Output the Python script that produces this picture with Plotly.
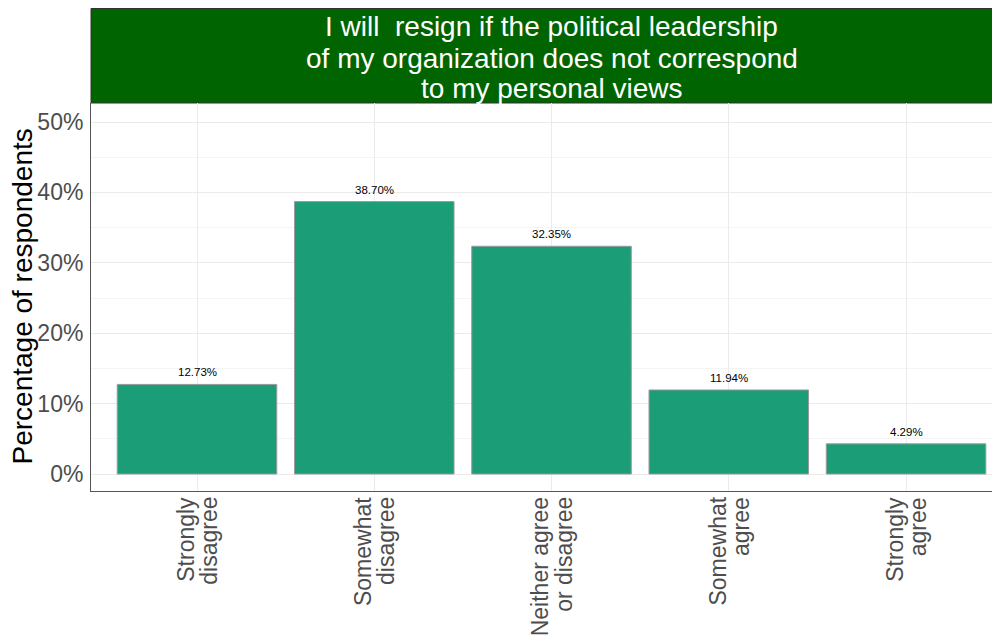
import plotly.graph_objects as go

categories = [["Strongly", "disagree"], ["Somewhat", "disagree"], ["Neither agree", "or disagree"],
              ["Somewhat", "agree"], ["Strongly", "agree"]]
values = [12.73, 38.70, 32.35, 11.94, 4.29]
value_labels = ["12.73%", "38.70%", "32.35%", "11.94%", "4.29%"]
y_ticks = [0, 10, 20, 30, 40, 50]
y_tick_labels = ["0%", "10%", "20%", "30%", "40%", "50%"]
title_lines = ["I will  resign if the political leadership",
               "of my organization does not correspond",
               "to my personal views"]
y_title = "Percentage of respondents"

FONT = "Liberation Sans, Arial, Helvetica, sans-serif"
x_idx = list(range(len(categories)))

# the page body has an 8px margin; figure sized to fit the 1000x642 window
W, H = 992, 634
ML, MT, MB, MR = 83, 95, 151, 0
PH = H - MT - MB  # plot height in px


def py(yfig):
    """figure-pixel y -> paper coordinate"""
    return 1 + (MT - yfig) / PH


fig = go.Figure()
fig.add_trace(go.Bar(
    x=x_idx, y=values, width=0.9,
    marker=dict(color="#1b9e77", line=dict(color="#9a9a9a", width=1)),
    hoverinfo="skip", showlegend=False,
))

# value labels above bars
for xi, v, lab in zip(x_idx, values, value_labels):
    fig.add_annotation(x=xi, y=v, text=lab, showarrow=False, yanchor="bottom",
                       yshift=4, font=dict(family=FONT, size=11.5, color="black"))

# category labels (rotated, tight line spacing)
for xi, lines in zip(x_idx, categories):
    n = len(lines)
    for k, line in enumerate(lines):
        fig.add_annotation(x=xi, xref="x", y=0, yref="paper", text=line, showarrow=False,
                           textangle=-90, xanchor="center", yanchor="top",
                           xshift=(k - (n - 1) / 2) * 23.5, yshift=-4,
                           font=dict(family=FONT, size=23, color="#4d4d4d"))

# title strip
fig.add_shape(type="rect", xref="paper", yref="paper", x0=0, x1=1.02, y0=1,
              y1=py(0.5), fillcolor="#006400",
              line=dict(color="#333333", width=1), layer="below")
for line, yc in zip(title_lines, [18.5, 51.0, 80.5]):
    fig.add_annotation(xref="x", x=2.0, yref="paper", y=py(yc), text=line, showarrow=False,
                       xanchor="center", yanchor="middle",
                       font=dict(family=FONT, size=28, color="white"))

# y axis title
fig.add_annotation(xref="paper", x=0, yref="paper", y=0.5, text=y_title, showarrow=False,
                   textangle=-90, xanchor="center", yanchor="middle", xshift=13.5 - ML,
                   font=dict(family=FONT, size=28, color="black"))

fig.update_layout(
    width=W, height=H,
    margin=dict(l=ML, r=MR, t=MT, b=MB, pad=0),
    plot_bgcolor="white", paper_bgcolor="white",
    font=dict(family=FONT),
    bargap=0.1,
    xaxis=dict(
        range=[-0.598, 4.530],
        tickmode="array", tickvals=x_idx, showticklabels=False,
        showgrid=True, gridcolor="#ebebeb", gridwidth=1,
        showline=True, linecolor="#555555", linewidth=1,
        ticks="", zeroline=False,
    ),
    yaxis=dict(
        range=[-2.41, 52.7],
        tickmode="array", tickvals=y_ticks, ticktext=y_tick_labels,
        tickfont=dict(size=23, color="#4d4d4d", family=FONT),
        ticklabelstandoff=2,
        showgrid=True, gridcolor="#ebebeb", gridwidth=1,
        minor=dict(tickvals=[5, 15, 25, 35, 45], showgrid=True, gridcolor="#f4f4f4", gridwidth=1),
        showline=True, linecolor="#555555", linewidth=1,
        ticks="", zeroline=False,
    ),
)

fig.write_html("out.html")
